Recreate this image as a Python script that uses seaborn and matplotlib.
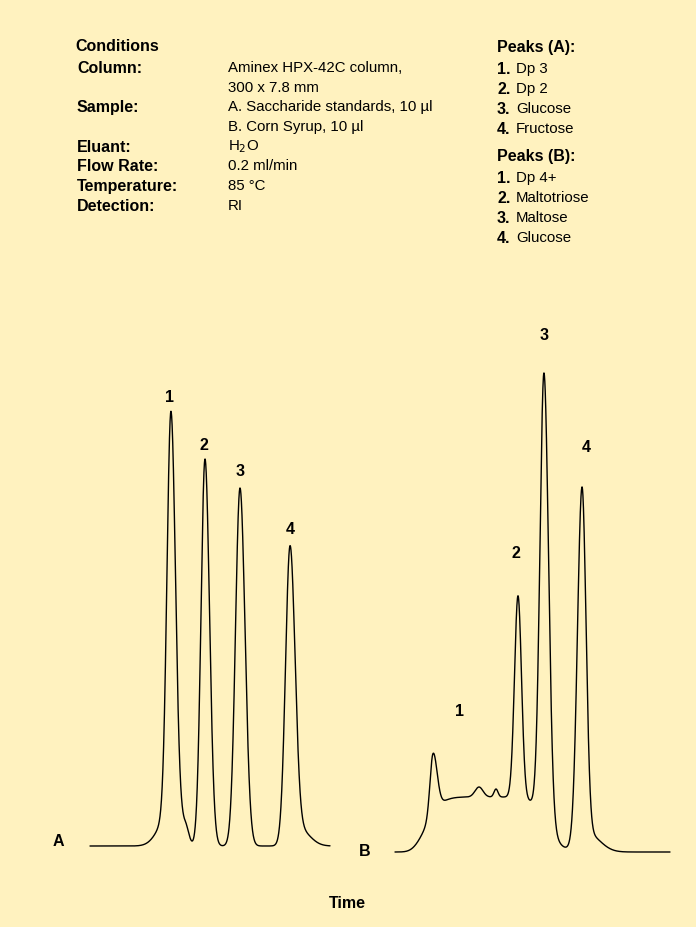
import numpy as np
import matplotlib
matplotlib.use("Agg")
import matplotlib.pyplot as plt
import seaborn as sns
import pandas as pd

sns.set_theme(style="white")
plt.rcParams['font.family'] = ['Liberation Sans', 'DejaVu Sans']

# Chromatogram A components (retention position, height, left width, right width, shape exponent)
a_pos = [171, 205, 240, 290, 168, 185, 300]
a_h = [407, 387, 358, 293, 28, 22, 16]
a_sl = [4, 4, 4.5, 4.5, 10, 7, 8]
a_sr = [4.5, 4.5, 5, 5, 6, 3.5, 10]
a_p = [2, 2, 2, 2, 2, 2, 2]
a_label_x = [170, 204, 240, 290]
a_label_h = [433, 385, 359, 301]
a_labels = ["1", "2", "3", "4"]

# Chromatogram B components
b_pos = [485, 433, 479, 496, 518, 544, 582, 588]
b_h = [55, 60, 10, 8, 202, 444, 350, 18]
b_sl = [55, 3, 4, 2, 3.5, 4, 4.5, 10]
b_sr = [60, 4, 4, 2, 3.5, 4.5, 4, 12]
b_p = [6, 2, 2, 2, 2, 2, 2, 2]
b_label_x = [460, 516, 544, 586]
b_label_h = [125, 282, 500, 389]
b_labels = ["1", "2", "3", "4"]

cond_labels = ["Column:", "", "Sample:", "", "Eluant:", "Flow Rate:", "Temperature:", "Detection:"]
cond_values = ["Aminex HPX-42C column,", "300 x 7.8 mm", "A. Saccharide standards, 10 µl",
               "B. Corn Syrup, 10 µl", "H$_2$O", "0.2 ml/min", "85 °C", "RI"]
peaks_a = ["Dp 3", "Dp 2", "Glucose", "Fructose"]
peaks_b = ["Dp 4+", "Maltotriose", "Maltose", "Glucose"]

BG = "#FFF2BF"
fig = plt.figure(figsize=(6.96, 9.27), dpi=100)
fig.patch.set_facecolor(BG)
ax = fig.add_axes([0, 0, 1, 1])
ax.set_facecolor(BG)
ax.set_xlim(0, 696)
ax.set_ylim(927, 0)
ax.axis("off")

def trace(t, pos, h, sl, sr, pw):
    y = np.zeros_like(t)
    for p, hh, l, r, e in zip(pos, h, sl, sr, pw):
        s = np.where(t < p, l, r)
        y += hh * np.exp(-0.5 * np.abs((t - p) / s) ** e)
    return y

A_BASE, B_BASE = 846, 852
ta = np.linspace(90, 330, 2000)
ya = trace(ta, a_pos, a_h, a_sl, a_sr, a_p)
tb = np.linspace(395, 670, 2000)
yb = trace(tb, b_pos, b_h, b_sl, b_sr, b_p)
dfa = pd.DataFrame({"t": ta, "y": A_BASE - ya})
dfb = pd.DataFrame({"t": tb, "y": B_BASE - yb})
sns.lineplot(data=dfa, x="t", y="y", ax=ax, color="black", lw=1, sort=False)
sns.lineplot(data=dfb, x="t", y="y", ax=ax, color="black", lw=1, sort=False)

bold = dict(fontweight="bold", fontsize=11.5, color="black")
for x, hh, lab in zip(a_label_x, a_label_h, a_labels):
    ax.text(x, A_BASE - hh - 16, lab, ha="center", va="center", **bold)
for x, hh, lab in zip(b_label_x, b_label_h, b_labels):
    ax.text(x, B_BASE - hh - 16, lab, ha="center", va="center", **bold)
ax.text(58, 842, "A", ha="center", va="center", **bold)
ax.text(365, 852, "B", ha="center", va="center", **bold)
ax.text(347, 903, "Time", ha="center", va="center", **bold)

norm = dict(fontsize=10.8, color="black")
ax.text(75, 46, "Conditions", ha="left", va="center", **bold)
ys = [68, 88, 107, 127, 147, 166, 186, 206]
for y, l, v in zip(ys, cond_labels, cond_values):
    if l:
        ax.text(77, y, l, ha="left", va="center", **bold)
    ax.text(228, y, v, ha="left", va="center", **norm)

ax.text(497, 47, "Peaks (A):", ha="left", va="center", **bold)
for i, n in enumerate(peaks_a):
    y = 69 + 20 * i
    ax.text(497, y, f"{i+1}.", ha="left", va="center", **bold)
    ax.text(516, y, n, ha="left", va="center", **norm)
ax.text(497, 156, "Peaks (B):", ha="left", va="center", **bold)
for i, n in enumerate(peaks_b):
    y = 178 + 20 * i
    ax.text(497, y, f"{i+1}.", ha="left", va="center", **bold)
    ax.text(516, y, n, ha="left", va="center", **norm)

fig.savefig("out.png", dpi=100, facecolor=BG)
